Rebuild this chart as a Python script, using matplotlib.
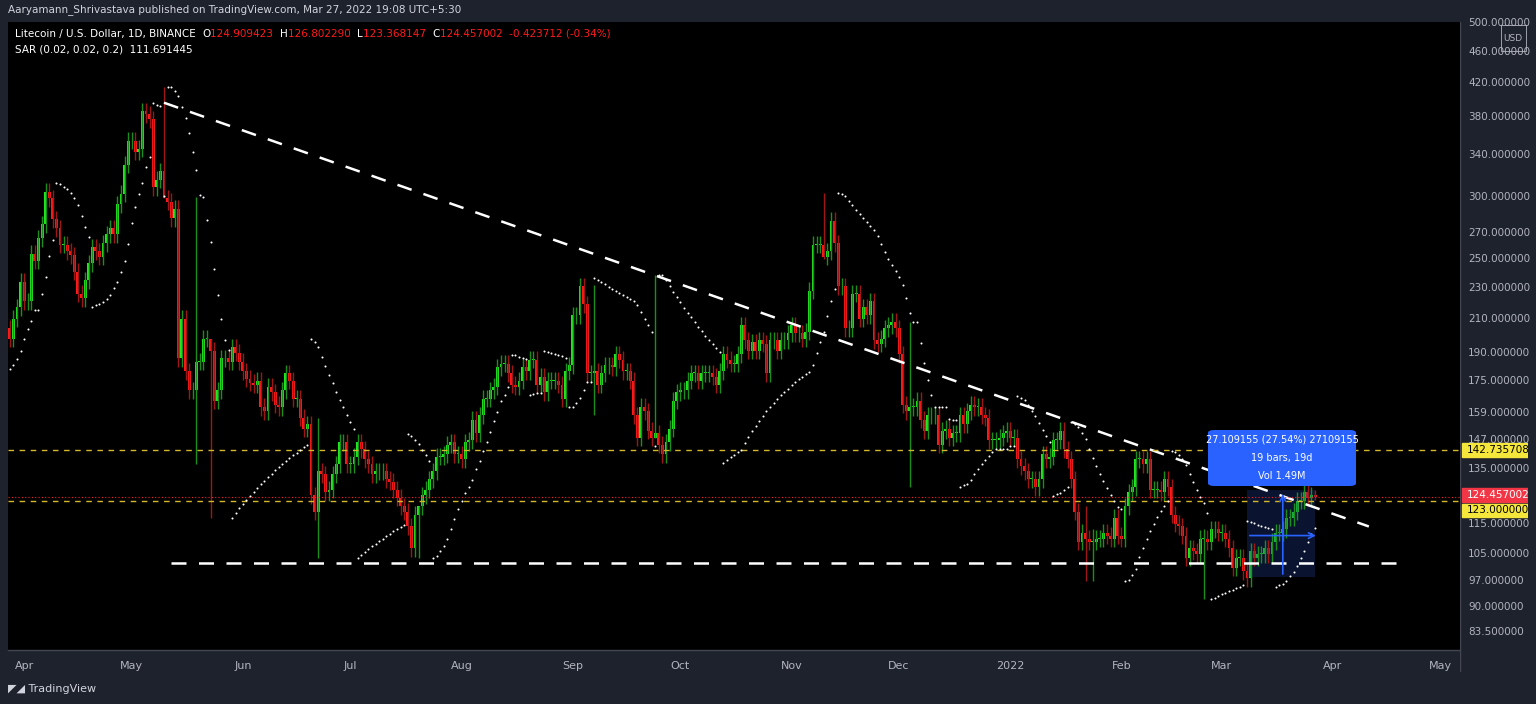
import numpy as np
import pandas as pd
import matplotlib
matplotlib.use("Agg")
import matplotlib.pyplot as plt
import matplotlib.dates as mdates
from matplotlib.patches import Rectangle, FancyBboxPatch

# ==========================
# DATA (daily closes, LTC/USD)
# ==========================
closes = [
    184, 188, 191, 204, 198, 210, 217, 234, 221, 221, 254, 249, 266, 277, 305, 299, 281, 274, 261, 261,
    256, 253, 241, 226, 223, 235, 247, 259, 256, 252, 262, 269, 274, 269, 294, 303, 330, 354, 354, 343,
    346, 386, 383, 377, 309, 316, 324, 299, 296, 282, 290, 187, 210, 180, 170, 170, 185, 185, 198,
    198, 191, 165, 170, 187, 187, 185, 193, 190, 185, 180, 176, 174,
    173, 175, 162, 160, 172, 169, 163, 162, 170, 179, 175, 166, 166, 157, 152, 154, 125, 119, 134,
    133, 126, 127, 133, 137, 146, 146, 137, 137, 140, 146, 143, 139, 137, 133, 134, 134, 134, 131,
    130, 127, 124, 121, 119, 114, 107, 118, 121, 125, 127, 131, 134, 140, 140, 141, 145, 146, 141,
    141, 139, 146, 147, 156, 150, 158, 166, 166,
    170, 172, 182, 184, 184, 179, 173, 172, 175, 182, 180, 186, 186, 173, 177, 169, 175, 175, 175,
    173, 166, 180, 183, 212, 212, 231, 219, 179, 179, 180, 173, 179, 183, 183, 182, 189, 186, 180,
    180, 175, 158, 148, 162, 160, 151, 148, 150, 145, 141, 146, 152, 165, 169, 170, 170, 175, 179,
    179, 175, 179, 179, 179, 177, 173, 180, 189, 186,
    184, 184, 189, 206, 197, 191, 196, 191, 197, 195, 179, 197, 197, 191, 197, 197, 201, 206, 201,
    201, 198, 202, 228, 261, 261, 261, 252, 256, 280, 262, 231, 231, 204, 204, 226, 226, 210, 217,
    212, 221, 197, 195, 198, 204, 206, 208, 204, 189, 163, 160, 162, 162, 165, 156, 151, 158, 158,
    158, 145, 151, 152, 148, 150, 150, 158, 154, 160,
    163, 162, 162, 158, 157, 147, 147, 147, 148, 150, 151, 148, 148, 139, 136, 134, 131, 131, 128,
    131, 141, 139, 140, 147, 147, 151, 143, 139, 131, 119, 109, 112, 110, 109, 109, 110, 110, 112,
    111, 110, 117, 111, 110, 121, 126, 128, 139, 139, 137, 139, 127, 127, 127, 126, 131, 128, 118,
    115, 114, 111, 104, 107, 106, 105, 110, 110, 109,
    113, 113, 112, 112, 110, 107, 101, 104, 104, 100, 98, 106, 104, 105, 105, 107, 105, 109, 112,
    112, 113, 117, 117, 119, 123, 123, 126, 124, 124.909, 124.457,
]
dates = pd.date_range(end="2022-03-27", periods=len(closes), freq="D")

# notable wicks: date -> (high, low)
wicks = {
    "2021-05-10": (415, 375), "2021-05-19": (300, 137), "2021-05-23": (190, 117),
    "2021-06-22": (157, 104), "2021-07-20": (120, 104), "2021-09-07": (232, 158),
    "2021-09-24": (239, 175), "2021-11-10": (304, 250), "2021-12-04": (208, 128),
    "2022-01-22": (121, 97), "2022-01-24": (113, 97), "2022-02-24": (113, 92),
    "2022-03-27": (126.80229, 123.368147),
}

price_ticks = [500, 460, 420, 380, 340, 300, 270, 250, 230, 210, 190, 175, 159, 147, 135, 115,
               105, 97, 90, 83.5]
month_labels = ["Apr", "May", "Jun", "Jul", "Aug", "Sep", "Oct", "Nov", "Dec", "2022", "Feb",
                "Mar", "Apr", "May"]
month_starts = pd.date_range("2021-04-01", "2022-05-01", freq="MS")

level_hi = 142.735708
level_lo = 123.0
last_close = 124.457002
support = 102.5

BG = "#000000"
PANEL = "#1e222d"
TXT = "#b2b5be"
UP, DOWN = "#22e622", "#ff1a1a"
UPW, DOWNW = "#1b8f1b", "#a01515"

# ==========================
# OHLC
# ==========================
opens = [closes[0] * 0.99] + closes[:-1]
opens[-1] = 124.909423
highs, lows = [], []
for d, o, c in zip(dates, opens, closes):
    key = d.strftime("%Y-%m-%d")
    if key in wicks:
        h, l = wicks[key]
        highs.append(max(h, o, c)); lows.append(min(l, o, c))
    else:
        highs.append(max(o, c) * 1.025); lows.append(min(o, c) * 0.975)


def psar(high, low, step=0.02, mx=0.2):
    n = len(high)
    sar = np.zeros(n)
    up = True
    af = step
    ep = high[0]
    sar[0] = low[0]
    for i in range(1, n):
        s = sar[i - 1] + af * (ep - sar[i - 1])
        if up:
            s = min(s, low[i - 1], low[max(i - 2, 0)])
            if low[i] < s:
                up, s, ep, af = False, ep, low[i], step
            elif high[i] > ep:
                ep = high[i]; af = min(af + step, mx)
        else:
            s = max(s, high[i - 1], high[max(i - 2, 0)])
            if high[i] > s:
                up, s, ep, af = True, ep, high[i], step
            elif low[i] < ep:
                ep = low[i]; af = min(af + step, mx)
        sar[i] = s
    return sar


sar = psar(highs, lows)

# ==========================
# FIGURE
# ==========================
fig = plt.figure(figsize=(15.36, 7.04), dpi=100, facecolor=PANEL)
W, H = 1536, 704
ax = fig.add_axes([8 / W, (H - 650) / H, 1452 / W, (650 - 22) / H], facecolor=BG)

x = mdates.date2num(dates)
for xi, o, h, l, c in zip(x, opens, highs, lows, closes):
    col, wc = (UP, UPW) if c >= o else (DOWN, DOWNW)
    ax.vlines(xi, l, h, color=wc, lw=1)
    ax.add_patch(Rectangle((xi - 0.4, min(o, c)), 0.8, max(abs(c - o), 0.3), color=col, lw=0))

ax.scatter(x, sar, s=2.2, color="white", zorder=3, lw=0)

ax.set_yscale("log")
ax.set_ylim(79.3, 502)
ax.set_xlim(mdates.date2num(pd.Timestamp("2021-03-27 12:00")),
            mdates.date2num(pd.Timestamp("2022-05-06 10:00")))

# trend / support lines
ax.plot([mdates.date2num(pd.Timestamp("2021-05-10")), mdates.date2num(pd.Timestamp("2022-04-11"))],
        [396, 114], color="white", lw=1.8, ls=(0, (6, 5)))
ax.plot([mdates.date2num(pd.Timestamp("2021-05-12")), mdates.date2num(pd.Timestamp("2022-04-22"))],
        [support, support], color="white", lw=1.8, ls=(0, (6, 5)))
ax.axhline(level_hi, color="#d4b82a", lw=1, ls=(0, (4, 4)))
ax.axhline(level_lo, color="#d4b82a", lw=1, ls=(0, (4, 4)))
ax.axhline(last_close, color="#ff2020", lw=0.8, ls=(0, (1, 2)))

# measure box
m0 = mdates.date2num(pd.Timestamp("2022-03-08"))
m1 = mdates.date2num(pd.Timestamp("2022-03-27"))
ax.add_patch(Rectangle((m0, 98.3), m1 - m0, 127 - 98.3, color="#1e3a8a", alpha=0.35, lw=0, zorder=1))
mid = mdates.date2num(pd.Timestamp("2022-03-18"))
ax.annotate("", xy=(mid, 126.5), xytext=(mid, 98.3),
            arrowprops=dict(arrowstyle="->", color="#2962ff", lw=1.2))
ax.annotate("", xy=(m1 + 1, 111), xytext=(m0, 111),
            arrowprops=dict(arrowstyle="->", color="#2962ff", lw=1.2))

ax.set_yticks([])
ax.yaxis.set_minor_locator(matplotlib.ticker.NullLocator())
ax.set_xticks(mdates.date2num(month_starts))
ax.set_xticklabels(month_labels, color=TXT, fontsize=8)
ax.tick_params(axis="x", length=0, pad=8)
for s in ax.spines.values():
    s.set_visible(False)

# price axis panel
pax = fig.add_axes([1460 / W, (H - 672) / H, 68 / W, (672 - 22) / H], facecolor=BG)
pax.set_xlim(0, 1); pax.set_ylim(0, 1); pax.axis("off")
pax.axvline(0, color="#434651", lw=1)


def py(p):
    return np.log(p / 79.3) / np.log(502 / 79.3) * (628 / 650) + 22 / 650


for p in price_ticks:
    pax.text(0.12, py(p), f"{p:.6f}", color=TXT, fontsize=7.5, va="center")
for p, fc, tc, dy in [(level_hi, "#f5e63b", "black", 0), (last_close, "#f23645", "white", 0.002),
                      (level_lo, "#f5e63b", "black", -0.015)]:
    yy = py(p) + dy
    pax.add_patch(Rectangle((0.03, yy - 0.0105), 0.97, 0.021, color=fc))
    pax.text(0.1, yy, f"{p:.6f}", color=tc, fontsize=7.5, va="center")
pax.add_patch(Rectangle((0.6, 0.955), 0.37, 0.04, fill=False, ec=TXT, lw=0.6))
pax.text(0.63, 0.975, "USD", color=TXT, fontsize=6.5, va="center")

# time axis line
fig.add_artist(plt.Line2D([8 / W, 1460 / W], [(H - 650) / H] * 2, color="#434651", lw=1))

# header texts
fig.text(8 / W, 1 - 10 / H, "Aaryamann_Shrivastava published on TradingView.com, Mar 27, 2022 19:08 UTC+5:30",
         color="#d1d4dc", fontsize=7.5, va="center")
hx = 15 / W
t = fig.text(hx, 1 - 34 / H, "Litecoin / U.S. Dollar, 1D, BINANCE  ", color="white", fontsize=7.5, va="center")
parts = [("O", "white"), ("124.909423  ", DOWN), ("H", "white"), ("126.802290  ", DOWN),
         ("L", "white"), ("123.368147  ", DOWN), ("C", "white"), ("124.457002  -0.423712 (-0.34%)", DOWN)]
fig.canvas.draw()
r = fig.canvas.get_renderer()
cur = t.get_window_extent(r).x1
for s, c in parts:
    tt = fig.text(cur / W, 1 - 34 / H, s, color=c, fontsize=7.5, va="center")
    cur = tt.get_window_extent(r).x1
fig.text(hx, 1 - 50 / H, "SAR (0.02, 0.02, 0.2)  111.691445", color="white", fontsize=7.5, va="center")

# measure label
lx0, ly0, lw_, lh_ = 1208, 430, 148, 56
fig.patches.append(FancyBboxPatch((lx0 / W, 1 - (ly0 + lh_) / H), lw_ / W, lh_ / H,
                                  boxstyle="round,pad=0,rounding_size=0.004", fc="#2962ff", ec="none",
                                  transform=fig.transFigure))
cx = (lx0 + lw_ / 2) / W
for k, s in enumerate(["27.109155 (27.54%) 27109155", "19 bars, 19d", "Vol 1.49M"]):
    fig.text(cx, 1 - (ly0 + 10 + k * 18) / H, s, color="white", fontsize=7, ha="center", va="center")

fig.text(8 / W, 1 - 689 / H, "\u25e4\u25e2 TradingView", color="#d1d4dc", fontsize=8, va="center")

fig.savefig("out.png", dpi=100, facecolor=PANEL)
